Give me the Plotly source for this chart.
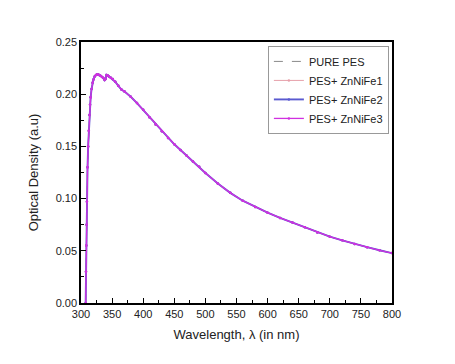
import plotly.graph_objects as go

wavelength = [307.5, 308, 308.5, 309, 309.5, 310.5, 311.5, 312.5, 313.5, 314.5, 315.5, 317, 318.5,
              320, 322, 324, 326, 328, 330, 332, 334, 336, 338, 339.5, 341, 343, 345, 348, 351,
              355, 360, 365, 370, 380, 390, 400, 410, 420, 430, 440, 450, 460, 470, 480, 490,
              500, 520, 540, 560, 580, 600, 620, 640, 660, 680, 700, 720, 740, 760, 780, 800]
od_pure = [0.000, 0.030, 0.055, 0.075, 0.097, 0.130, 0.150, 0.165, 0.180, 0.190, 0.197, 0.205, 0.211,
           0.214, 0.217, 0.2185, 0.219, 0.2188, 0.2182, 0.2175, 0.2165, 0.2155, 0.2135, 0.2145, 0.2185,
           0.218, 0.217, 0.2158, 0.2145, 0.212, 0.208, 0.2045, 0.2025, 0.1975, 0.1915, 0.185, 0.178,
           0.171, 0.1645, 0.158, 0.152, 0.1465, 0.141, 0.1355, 0.1305, 0.1245, 0.1145, 0.1055, 0.098,
           0.092, 0.0865, 0.0815, 0.077, 0.0725, 0.0675, 0.0635, 0.0600, 0.0565, 0.0535, 0.0505, 0.0478]
od_zn1 = list(od_pure)
od_zn2 = list(od_pure)
od_zn3 = list(od_pure)

series_names = ["PURE PES", "PES+ ZnNiFe1", "PES+ ZnNiFe2", "PES+ ZnNiFe3"]
series_values = [od_pure, od_zn1, od_zn2, od_zn3]
colors = ["#8a8a8a", "#e6a0aa", "#5a5ad0", "#d030e0"]
dashes = ["dash", "solid", "solid", "solid"]
widths = [1, 1, 1.9, 1.3]

fig = go.Figure()
for name, vals, c, d, w in zip(series_names, series_values, colors, dashes, widths):
    fig.add_trace(go.Scatter(
        x=wavelength, y=vals, name=name, mode="lines" if d == "dash" else "lines+markers",
        line=dict(color=c, dash=d, width=w),
        marker=dict(size=2.5, color=c),
    ))

axis_common = dict(
    showline=True, linecolor="black", linewidth=1.5, mirror=True,
    ticks="inside", ticklen=5, tickwidth=1, tickcolor="black",
    showgrid=False, zeroline=False,
    tickfont=dict(family="Liberation Sans, Arial", size=11, color="#222"),
    minor=dict(ticks="inside", ticklen=3, tickcolor="black"),
)

fig.update_xaxes(range=[300, 800], dtick=50, tick0=300,
                 minor_dtick=25,
                 title=dict(text="Wavelength, λ (in nm)", standoff=11,
                            font=dict(family="Liberation Sans, Arial", size=13, color="#222")),
                 **axis_common)
fig.update_yaxes(range=[0, 0.25], dtick=0.05, tick0=0, tickformat=".2f",
                 minor_dtick=0.025,
                 title=dict(text="Optical Density (a.u)", standoff=14,
                            font=dict(family="Liberation Sans, Arial", size=13, color="#222")),
                 **axis_common)

fig.update_layout(
    width=447, height=356,
    margin=dict(l=73, r=63, t=34, b=61),
    plot_bgcolor="white", paper_bgcolor="white",
    legend=dict(x=0.99, y=0.985, xanchor="right", yanchor="top",
                bgcolor="white", bordercolor="#999", borderwidth=1,
                font=dict(family="Liberation Sans, Arial", size=11, color="#222"),
                tracegroupgap=0, itemwidth=30),
    showlegend=True,
)

fig.write_html("out.html")
